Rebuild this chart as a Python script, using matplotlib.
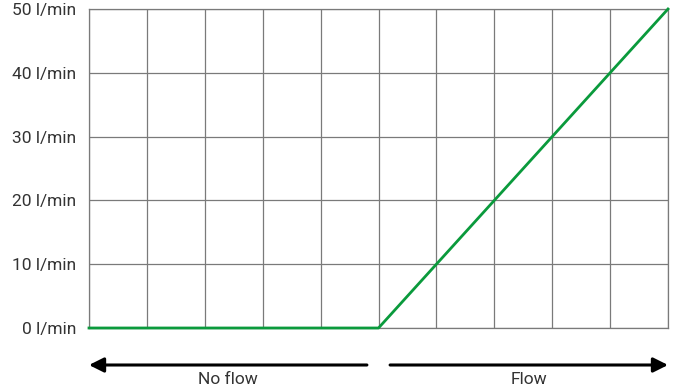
import matplotlib
matplotlib.use("Agg")
import matplotlib.pyplot as plt
import matplotlib.transforms as mtrans

x_vals = [0, 5, 10]
flow_vals = [0, 0, 50]
y_ticks = [0, 10, 20, 30, 40, 50]
y_labels = ["0 l/min", "10 l/min", "20 l/min", "30 l/min", "40 l/min", "50 l/min"]
left_label = "No flow"
right_label = "Flow"

plt.rcParams['font.family'] = ['Roboto', 'DejaVu Sans']

W, H = 676, 389
fig = plt.figure(figsize=(W / 100, H / 100), dpi=100)
ax = fig.add_axes([89 / W, 1 - 328 / H, (668 - 89) / W, (328 - 9) / H])

ax.set_xlim(0, 10)
ax.set_ylim(0, 50)
ax.set_xticks(range(0, 11))
ax.set_yticks(y_ticks)
ax.set_yticklabels(y_labels, fontsize=12.5, color='#333333')
ax.tick_params(axis='x', length=0, labelbottom=False)
ax.tick_params(axis='y', length=0, pad=9)
ax.grid(True, color='#7a7a7a', linewidth=0.9)
ax.set_axisbelow(True)
for s in ax.spines.values():
    s.set_color('#7a7a7a')
    s.set_linewidth(0.9)

ax.plot(x_vals, flow_vals, color='#0a9a3c', linewidth=2.0, clip_on=False, zorder=3)

blend = mtrans.blended_transform_factory(ax.transData, fig.transFigure)
yarrow = 1 - 365 / H
ylab = 1 - 379 / H
for tail, head in [(4.8, 0), (5.2, 10)]:
    ax.annotate('', xy=(head, yarrow), xytext=(tail, yarrow),
                xycoords=('data', 'figure fraction'), textcoords=('data', 'figure fraction'),
                arrowprops=dict(arrowstyle='-|>', color='black', lw=2.2, mutation_scale=22,
                                shrinkA=0, shrinkB=0), annotation_clip=False)
ax.text(2.4, ylab, left_label, transform=blend,
        ha='center', va='center', fontsize=12.5, color='#333333')
ax.text(7.6, ylab, right_label, transform=blend,
        ha='center', va='center', fontsize=12.5, color='#333333')

fig.savefig('out.png', dpi=100)
